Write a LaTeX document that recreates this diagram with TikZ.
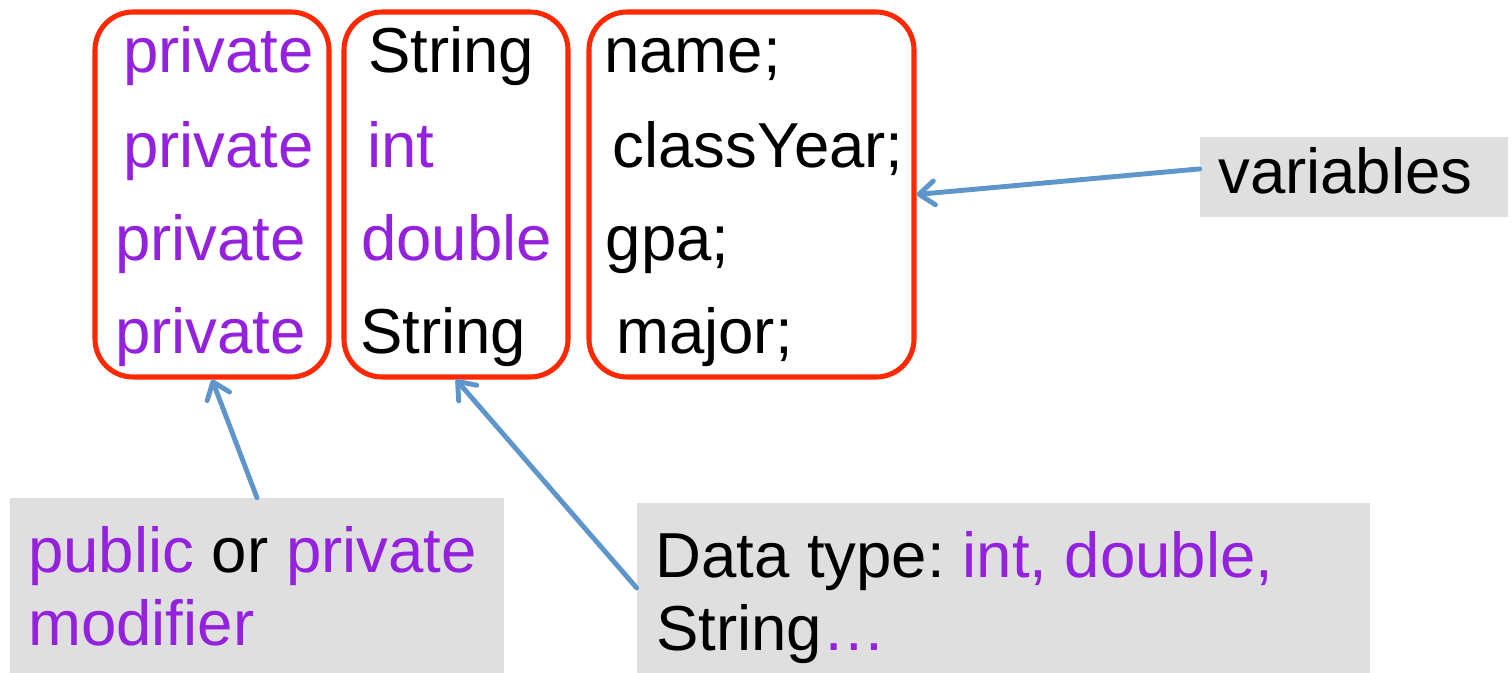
\documentclass[tikz,border=0pt]{standalone}
\usepackage{fontspec}
\setmainfont{Liberation Sans}
\usepackage{tikz}
\usetikzlibrary{arrows.meta,positioning}
\definecolor{kwpurple}{HTML}{9321DD}
\definecolor{framered}{HTML}{FF2800}
\definecolor{pointblue}{HTML}{5E96CB}
\definecolor{tagfill}{HTML}{DFDFDF}
\frenchspacing
\tikzset{
  every node/.append style={font=\fontsize{45.2}{54}\selectfont},
}
\newcommand{\kw}[1]{\textcolor{kwpurple}{#1}}

\begin{document}
\begin{tikzpicture}[
  frame/.style ={draw=framered, line width=3.6pt, rounded corners=27pt, inner sep=0pt},
  tag/.style   ={fill=tagfill, inner sep=0pt},
  word/.style  ={anchor=base west, inner sep=0pt},
  pointer/.style={-{Straight Barb[length=11pt,width=17pt,round]}, draw=pointblue,
                  line width=3.5pt, line cap=round}
]
\useasboundingbox (0,0) rectangle (37.8,-16.825);

% the three groups of the declaration
\node[frame, minimum width=5.85cm,  minimum height=9.125cm] (access) at (5.3,-4.8625) {};
\node[frame, minimum width=5.6cm,   minimum height=9.125cm] (types)  at (11.4,-4.8625) {};
\node[frame, minimum width=8.125cm, minimum height=9.125cm] (names)  at (18.7875,-4.8625) {};

\node[word, kwpurple] (acc1) at (3.075,-1.8)   {private};
\node[word, kwpurple] (acc2) at (3.075,-4.175) {private};
\node[word, kwpurple] (acc3) at (2.875,-6.5)   {private};
\node[word, kwpurple] (acc4) at (2.875,-8.825) {private};

\node[word]           (typ1) at (9.2,-1.8)     {String};
\node[word, kwpurple] (typ2) at (9.175,-4.175) {int};
\node[word, kwpurple] (typ3) at (9.025,-6.5)   {double};
\node[word]           (typ4) at (9.0,-8.825)   {String};

\node[word] (var1) at (15.1,-1.8)    {name;};
\node[word] (var2) at (15.31,-4.175) {classYear;};
\node[word] (var3) at (15.14,-6.5)   {gpa;};
\node[word] (var4) at (15.4,-8.825)  {major;};

% grey call-outs
\node[tag, minimum width=7.7cm,   minimum height=2cm]     (vars)    at (33.85,-4.425) {};
\node[tag, minimum width=12.35cm, minimum height=4.375cm] (modbox)  at (6.425,-14.6375) {};
\node[tag, minimum width=18.325cm,minimum height=4.25cm]  (typebox) at (25.0875,-14.7) {};

\node[word] (varstxt) at (30.45,-4.825) {variables};
\node[word] (mod1) at (0.7,-14.3)   {\kw{public} or \kw{private}};
\node[word] (mod2) at (0.7,-16.125) {\kw{modifier}};
\node[word] (dt1) at (16.375,-14.425) {Data type: \kw{int, double,}};
\node[word] (dt2) at (16.4,-16.25)    {String\kw{…}};

\draw[pointer] (vars.177)      -- (names.east);
\draw[pointer] (modbox.north)  -- (access.south);
\draw[pointer] (typebox.west)  -- (types.south);

\end{tikzpicture}
\end{document}
